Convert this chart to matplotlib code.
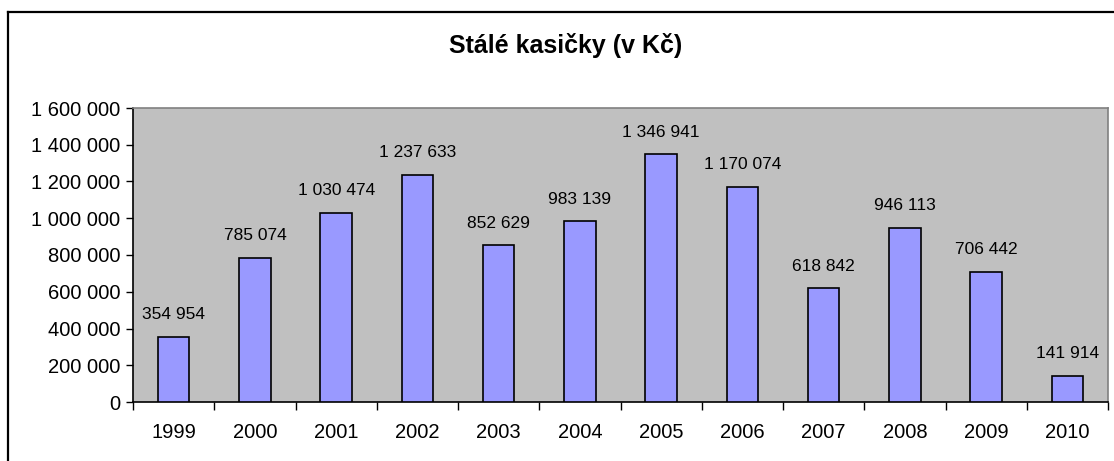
import matplotlib.pyplot as plt
from matplotlib.lines import Line2D

plt.rcParams['font.family'] = ['Liberation Sans', 'DejaVu Sans']

years = ['1999', '2000', '2001', '2002', '2003', '2004', '2005', '2006', '2007', '2008', '2009', '2010']
values = [354954, 785074, 1030474, 1237633, 852629, 983139, 1346941, 1170074, 618842, 946113, 706442, 141914]
title = 'Stálé kasičky (v Kč)'


def fmt(v):
    return f'{v:,.0f}'.replace(',', ' ')


fig = plt.figure(figsize=(11.14, 4.61), dpi=100)
ax = fig.add_axes([133 / 1114, 59 / 461, 975 / 1114, 294 / 461])

# outer chart frame (only top and left edges visible in the crop)
fig.add_artist(Line2D([8 / 1114, 8 / 1114], [0, 449 / 461], transform=fig.transFigure, color='black', lw=1.6))
fig.add_artist(Line2D([8 / 1114, 1], [449 / 461, 449 / 461], transform=fig.transFigure, color='black', lw=1.6))

fig.text(566 / 1114, 416 / 461, title, ha='center', va='center', fontsize=18, fontweight='bold')

x = list(range(len(years)))
ax.set_facecolor('#C0C0C0')
ax.bar(x, values, width=0.39, color='#9999FF', edgecolor='black', linewidth=1.2, zorder=3)

for xi, v in zip(x, values):
    ax.annotate(fmt(v), (xi, v), xytext=(0, 16), textcoords='offset points',
                ha='center', va='center', fontsize=12.5)

ax.set_xlim(-0.5, len(years) - 0.5)
ax.set_ylim(0, 1600000)
ax.set_yticks(range(0, 1600001, 200000))
ax.set_yticklabels([fmt(v) for v in range(0, 1600001, 200000)], fontsize=14.5)

# ticks between categories, labels under categories
ax.set_xticks([i - 0.5 for i in range(len(years) + 1)])
ax.set_xticklabels([])
ax.set_xticks(x, minor=True)
ax.set_xticklabels(years, minor=True, fontsize=14.5)
ax.tick_params(axis='x', which='minor', length=0, pad=15)
ax.tick_params(axis='x', which='major', length=6, width=1, direction='out')
ax.tick_params(axis='y', length=5, width=1, direction='out', pad=4)

ax.spines['left'].set_color('black')
ax.spines['bottom'].set_color('black')
ax.spines['top'].set_color('#808080')
ax.spines['right'].set_color('#808080')
for s in ax.spines.values():
    s.set_linewidth(1.2)

plt.savefig('out.png', dpi=100)
